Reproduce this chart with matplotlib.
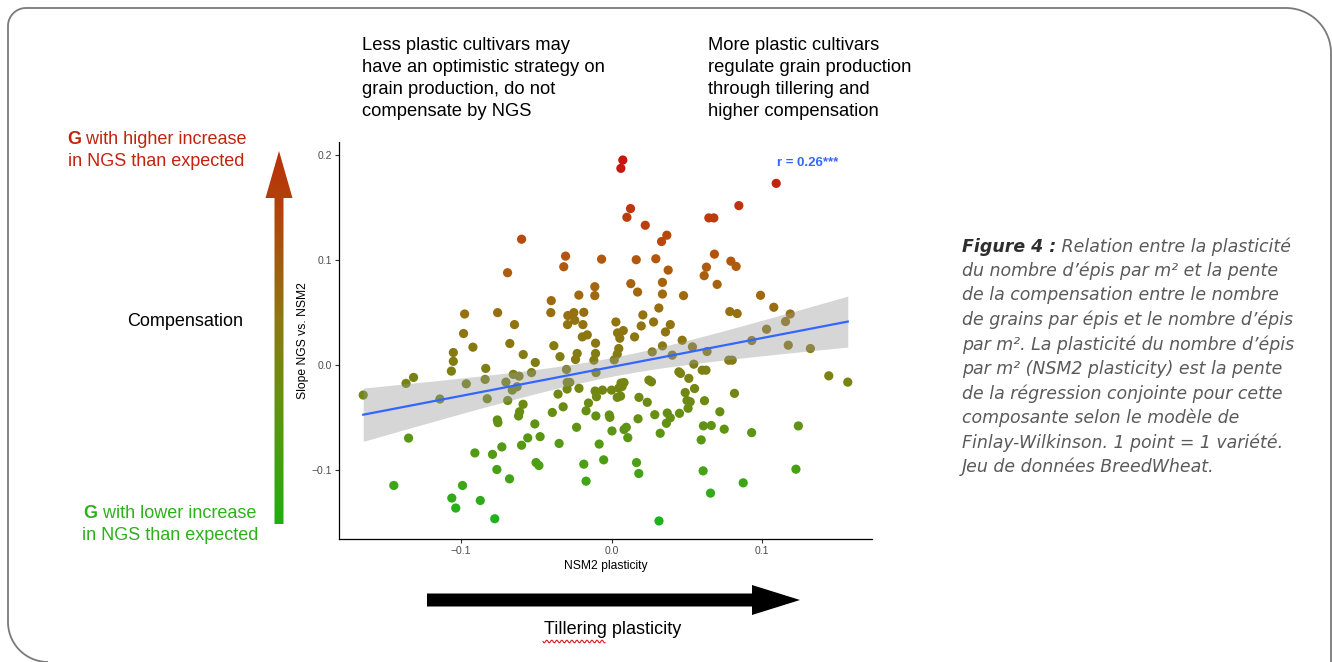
import numpy as np
import matplotlib.pyplot as plt
from matplotlib.colors import LinearSegmentedColormap
from matplotlib.patches import Polygon

# one point per variety: NSM2 plasticity (x) and slope NGS vs. NSM2 (y)
nsm2_plasticity = [
    0.0075, 0.0062, 0.0126, 0.0102, 0.0224, 0.0367, 0.0332, -0.0597, -0.0305, -0.0317,
    -0.0066, 0.0164, 0.0294, 0.0376, -0.0111, 0.0128, 0.0173, 0.0338, 0.0338, 0.0478,
    -0.0217, -0.0111, -0.0400, -0.0403, -0.0290, -0.0250, -0.0184, -0.0244, -0.0292, -0.0190,
    0.0029, 0.0208, 0.0314, 0.0279, 0.0197, 0.0390, 0.0358, 0.0040, 0.0078, 0.0055,
    0.0153, -0.0194, -0.0161, -0.0690, -0.0975, -0.0756, -0.0644, -0.0982, 0.1093, 0.0845,
    0.0646, 0.0679, 0.0683, 0.0630, 0.0615, 0.0792, 0.0827, 0.0701, 0.0989, 0.1077,
    0.0785, 0.0834, 0.1186, 0.1155, 0.1029, -0.0106, -0.0383, -0.0675, -0.0920, 0.0338,
    0.0469, 0.0537, 0.0931, 0.1173, 0.1320, 0.0634, 0.0403, 0.0270, 0.0048, 0.0038,
    0.0018, -0.0106, -0.0117, -0.0228, -0.0239, -0.0342, -0.0586, -0.0506, -0.0531, -0.0614,
    -0.0652, -0.0701, -0.0627, -0.0659, -0.0689, -0.0587, -0.0610, -0.0617, -0.0509, -0.0758,
    -0.0754, -0.0728, -0.0790, -0.0907, -0.0761, -0.0677, -0.0989, -0.1060, -0.1034, -0.0871,
    -0.0775, -0.1445, -0.1347, -0.1648, -0.1364, -0.1314, -0.1139, -0.1050, -0.1050, -0.1063,
    -0.0835, -0.0839, -0.0964, -0.0825, -0.0299, -0.0294, -0.0277, -0.0295, -0.0216, -0.0355,
    -0.0321, -0.0393, -0.0153, -0.0169, -0.0232, -0.0348, -0.0474, -0.0556, -0.0597, -0.0501,
    -0.0482, -0.0184, -0.0169, -0.0103, 0.0063, 0.0083, 0.0048, 0.0070, 0.0038, 0.0060,
    -0.0109, -0.0060, 0.0000, -0.0100, 0.0182, 0.0237, 0.0248, 0.0265, 0.0447, 0.0458,
    0.0513, 0.0551, 0.0489, 0.0501, 0.0522, 0.0508, 0.0451, 0.0370, 0.0390, 0.0364,
    0.0287, 0.0176, 0.0323, 0.0083, 0.0098, 0.0108, 0.0003, -0.0015, -0.0011, -0.0104,
    -0.0082, -0.0052, 0.0166, 0.0181, 0.0315, 0.0546, 0.0602, 0.0627, 0.0778, 0.0801,
    0.1442, 0.1568, 0.0816, 0.0617, 0.0719, 0.0610, 0.0662, 0.0748, 0.0930, 0.1240,
    0.0595, 0.0608, 0.0874, 0.0657, 0.1224,
]
slope_ngs = [
    0.1956, 0.1877, 0.1494, 0.1411, 0.1335, 0.1240, 0.1180, 0.1202, 0.1041, 0.0940,
    0.1012, 0.1007, 0.1016, 0.0908, 0.0750, 0.0779, 0.0699, 0.0791, 0.0680, 0.0665,
    0.0670, 0.0665, 0.0617, 0.0503, 0.0475, 0.0503, 0.0506, 0.0430, 0.0389, 0.0389,
    0.0414, 0.0481, 0.0547, 0.0414, 0.0376, 0.0389, 0.0319, 0.0310, 0.0332, 0.0259,
    0.0272, 0.0272, 0.0291, 0.0883, 0.0490, 0.0503, 0.0389, 0.0304, 0.1734, 0.1522,
    0.1405, 0.1405, 0.1060, 0.0936, 0.0855, 0.0993, 0.0943, 0.0772, 0.0668, 0.0554,
    0.0513, 0.0494, 0.0490, 0.0418, 0.0345, 0.0212, 0.0188, 0.0209, 0.0174, 0.0186,
    0.0240, 0.0177, 0.0237, 0.0193, 0.0161, 0.0133, 0.0098, 0.0129, 0.0161, 0.0107,
    0.0053, 0.0114, 0.0050, 0.0114, 0.0057, 0.0084, 0.0104, 0.0028, -0.0068, -0.0102,
    -0.0085, -0.0159, -0.0203, -0.0235, -0.0334, -0.0370, -0.0441, -0.0481, -0.0557, -0.0519,
    -0.0545, -0.0776, -0.0847, -0.0833, -0.0991, -0.1080, -0.1143, -0.1263, -0.1358, -0.1286,
    -0.1460, -0.1143, -0.0692, -0.0282, -0.0171, -0.0114, -0.0320, 0.0123, 0.0039, -0.0054,
    -0.0028, -0.0133, -0.0175, -0.0317, -0.0038, -0.0161, -0.0161, -0.0225, -0.0218, -0.0273,
    -0.0394, -0.0448, -0.0358, -0.0432, -0.0589, -0.0743, -0.0678, -0.0690, -0.0760, -0.0925,
    -0.0953, -0.0940, -0.1102, -0.0068, -0.0168, -0.0163, -0.0216, -0.0201, -0.0304, -0.0292,
    -0.0244, -0.0235, -0.0235, -0.0298, -0.0304, -0.0351, -0.0140, -0.0156, -0.0061, -0.0076,
    -0.0123, -0.0220, -0.0258, -0.0334, -0.0346, -0.0408, -0.0456, -0.0453, -0.0499, -0.0551,
    -0.0469, -0.0508, -0.0646, -0.0610, -0.0589, -0.0688, -0.0624, -0.0472, -0.0494, -0.0481,
    -0.0749, -0.0899, -0.0925, -0.1029, -0.1481, 0.0012, -0.0045, -0.0045, 0.0050, 0.0050,
    -0.0099, -0.0159, -0.0266, -0.0336, -0.0441, -0.0575, -0.0572, -0.0607, -0.0640, -0.0576,
    -0.0709, -0.1004, -0.1118, -0.1216, -0.0988,
]
x_ticks = [-0.1, 0.0, 0.1]
y_ticks = [-0.1, 0.0, 0.1, 0.2]
r_label = "r = 0.26***"

caption_lines = [
    "Relation entre la plasticité",
    "du nombre d’épis par m² et la pente",
    "de la compensation entre le nombre",
    "de grains par épis et le nombre d’épis",
    "par m². La plasticité du nombre d’épis",
    "par m² (NSM2 plasticity) est la pente",
    "de la régression conjointe pour cette",
    "composante selon le modèle de",
    "Finlay-Wilkinson. 1 point = 1 variété.",
    "Jeu de données BreedWheat.",
]

plt.rcParams['font.family'] = ['Liberation Sans', 'DejaVu Sans']

x = np.array(nsm2_plasticity)
y = np.array(slope_ngs)

point_cmap = LinearSegmentedColormap.from_list(
    'compensation',
    [(0.0, '#1EB21E'), (0.15, '#4BA014'), (0.43, '#7F7E12'),
     (0.58, '#977010'), (0.72, '#B2580C'), (1.0, '#C8150F')])
arrow_cmap = LinearSegmentedColormap.from_list(
    'arrow',
    [(0.0, '#1FAE10'), (0.35, '#6A9012'), (0.55, '#8E7812'),
     (0.8, '#AE4A0C'), (1.0, '#B9300A')])

fig = plt.figure(figsize=(13.32, 6.62), dpi=100)

# overlay in pixel coordinates for the annotations around the plot
ov = fig.add_axes([0, 0, 1, 1])
ov.axis('off')


def arc(cx, cy, r, a0, a1):
    t = np.radians(np.linspace(a0, a1, 30))
    return cx + r * np.cos(t), cy + r * np.sin(t)


# rounded frame (y grows downward here)
bx, by = [], []
for seg in [arc(48, 622, 40, 90, 180), arc(26, 26, 18, 180, 270),
            arc(1286, 53, 45, 270, 360)]:
    bx.extend(seg[0])
    by.extend(seg[1])
bx.append(1331)
by.append(680)
ov.plot(bx, by, color='#7a7a7a', lw=1.3, solid_capstyle='butt')

# vertical gradient arrow
arrow_pts = [(274.5, 524), (274.5, 198), (265.5, 198), (279, 151),
             (292.5, 198), (283.5, 198), (283.5, 524)]
clip = Polygon(arrow_pts, closed=True, facecolor='none', edgecolor='none')
ov.add_patch(clip)
grad = np.linspace(0, 1, 256).reshape(-1, 1)
im = ov.imshow(grad, cmap=arrow_cmap, extent=[265, 293, 524, 151],
               origin='lower', aspect='auto', interpolation='bilinear')
im.set_clip_path(clip)

# horizontal black arrow
ov.add_patch(Polygon([(427, 593.5), (752, 593.5), (752, 585), (800, 600),
                      (752, 615), (752, 606.5), (427, 606.5)],
                     closed=True, facecolor='black', edgecolor='none'))
ov.text(613, 630, "Tillering plasticity", fontsize=13, ha='center', va='center')
sq = np.linspace(543, 605, 120)
ov.plot(sq, 641.5 + 1.3 * np.sin((sq - 543) * 1.25), color='#d02020', lw=0.8)

red = '#C0240E'
green = '#2DB01C'
fs = 13
g1 = ov.text(67, 140, "G", fontsize=fs, fontweight='bold', color=red, va='center')
ov.annotate(" with higher increase", xy=(1, 0.5), xycoords=g1, fontsize=fs,
            color=red, va='center')
ov.text(68, 162, "in NGS than expected", fontsize=fs, color=red, va='center')
ov.text(127, 321, "Compensation", fontsize=fs, color='black', va='center')
g2 = ov.text(83.5, 513, "G", fontsize=fs, fontweight='bold', color=green, va='center')
ov.annotate(" with lower increase", xy=(1, 0.5), xycoords=g2, fontsize=fs,
            color=green, va='center')
ov.text(81.5, 535, "in NGS than expected", fontsize=fs, color=green, va='center')

top_left = ["Less plastic cultivars may", "have an optimistic strategy on",
            "grain production, do not", "compensate by NGS"]
top_right = ["More plastic cultivars", "regulate grain production",
             "through tillering and", "higher compensation"]
for i in range(4):
    ov.text(362, 46 + 22 * i, top_left[i], fontsize=13.2, va='center')
    ov.text(708, 46 + 22 * i, top_right[i], fontsize=13.2, va='center')

cap_font = ['DejaVu Sans']
cap_fs = 12.5
f4 = ov.text(962, 246.5, "Figure 4 :", fontsize=cap_fs, style='italic',
             fontweight='bold', color='#2e2e2e', va='center', family=cap_font)
ov.annotate(" " + caption_lines[0], xy=(1, 0.5), xycoords=f4, fontsize=cap_fs,
            style='italic', color='#5a5a5a', va='center', family=cap_font)
for i, line in enumerate(caption_lines[1:], start=1):
    ov.text(962, 246.5 + 24.5 * i, line, fontsize=cap_fs, style='italic',
            color='#5a5a5a', va='center', family=cap_font)

ov.set_xlim(0, 1332)
ov.set_ylim(662, 0)

# scatter plot
ax = fig.add_axes([339 / 1332, 1 - 539 / 662, 533 / 1332, 397 / 662])
ax.scatter(x, y, c=y, cmap=point_cmap, s=44, linewidths=0, zorder=2)

n = len(x)
b, a = np.polyfit(x, y, 1)
xs = np.linspace(x.min(), x.max(), 100)
fit = a + b * xs
resid = y - (a + b * x)
s_err = np.sqrt(np.sum(resid ** 2) / (n - 2))
se = s_err * np.sqrt(1 / n + (xs - x.mean()) ** 2 / np.sum((x - x.mean()) ** 2))
ax.fill_between(xs, fit - 1.972 * se, fit + 1.972 * se, color='#999999',
                alpha=0.4, linewidth=0, zorder=3)
ax.plot(xs, fit, color='#3366FF', lw=1.6, zorder=4)

ax.text(0.130, 0.193, r_label, color='#3366FF', fontsize=9.5, fontweight='bold',
        ha='center', va='center')

xr = x.max() - x.min()
yr = y.max() - y.min()
ax.set_xlim(x.min() - 0.05 * xr, x.max() + 0.05 * xr)
ax.set_ylim(y.min() - 0.05 * yr, y.max() + 0.05 * yr)
ax.set_xticks(x_ticks)
ax.set_yticks(y_ticks)
ax.set_xticklabels([f"{v:.1f}".replace('-', '\u2212') for v in x_ticks])
ax.set_yticklabels([f"{v:.1f}".replace('-', '\u2212') for v in y_ticks])
ax.tick_params(labelsize=7.5, labelcolor='#4D4D4D', color='#333333',
               length=3, width=0.8, pad=2)
for side in ['top', 'right']:
    ax.spines[side].set_visible(False)
for side in ['left', 'bottom']:
    ax.spines[side].set_linewidth(0.9)
ax.set_xlabel("NSM2 plasticity", fontsize=8.7, labelpad=3)
ax.set_ylabel("Slope NGS vs. NSM2", fontsize=8.7, labelpad=2)

fig.savefig('out.png', dpi=100)
